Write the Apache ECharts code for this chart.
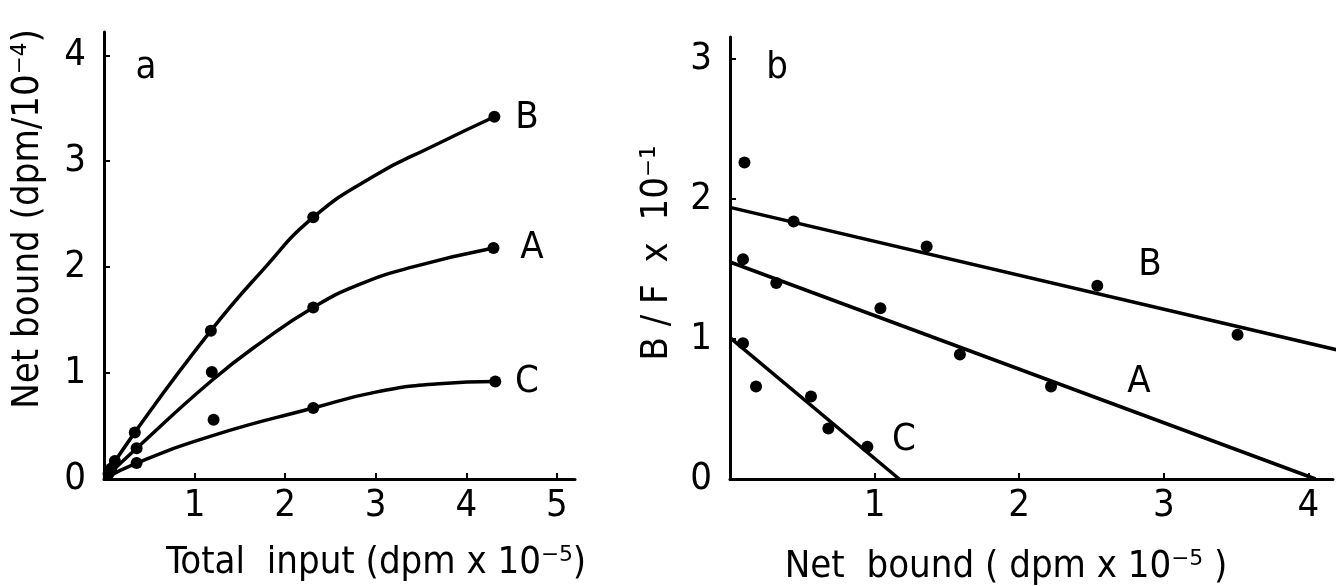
<!DOCTYPE html>
<html>
<head>
<meta charset="utf-8">
<script src="https://cdn.jsdelivr.net/npm/echarts@6/dist/echarts.min.js"></script>
<style>
  html, body { margin: 0; padding: 0; background: #fff; }
  #chart { width: 1344px; height: 586px; }
</style>
</head>
<body>
<div id="chart"></div>
<script>
// panel a : net bound vs total input
var aPointsB = [[0.12, 0.17], [0.34, 0.44], [1.18, 1.40], [2.31, 2.47], [4.31, 3.42]];
var aPointsA = [[0.08, 0.10], [0.36, 0.29], [1.19, 1.01], [2.31, 1.62], [4.30, 2.18]];
var aPointsC = [[0.05, 0.05], [0.36, 0.15], [1.21, 0.56], [2.31, 0.67], [4.32, 0.92]];
// hand drawn fitted curves
var aCurveB = [[0, 0], [0.34, 0.44], [1.18, 1.40], [1.75, 1.97], [2.31, 2.47], [3.0, 2.87], [3.6, 3.13], [4.31, 3.42]];
var aCurveA = [[0, 0], [0.36, 0.29], [1.19, 0.93], [1.75, 1.30], [2.31, 1.62], [2.8, 1.83], [3.4, 2.0], [4.30, 2.18]];
var aCurveC = [[0, 0], [0.36, 0.15], [1.2, 0.41], [2.31, 0.67], [3.0, 0.82], [3.7, 0.90], [4.32, 0.92]];

// panel b : scatchard plot B/F vs net bound
var bPointsB = [[0.10, 2.26], [0.44, 1.84], [1.36, 1.66], [2.54, 1.38], [3.51, 1.03]];
var bPointsA = [[0.09, 1.57], [0.32, 1.40], [1.04, 1.22], [1.59, 0.89], [2.22, 0.66]];
var bPointsC = [[0.09, 0.97], [0.18, 0.66], [0.56, 0.59], [0.68, 0.36], [0.95, 0.23]];
var bLineB = [[0, 1.94], [4.25, 0.91]];
var bLineA = [[0, 1.55], [4.05, 0]];
var bLineC = [[0, 1.01], [1.17, 0]];

// tick labels
var xTicksA = [1, 2, 3, 4, 5];
var yTicksA = [0, 1, 2, 3, 4];
var xTicksB = [1, 2, 3, 4];
var yTicksB = [0, 1, 2, 3];

var FONT = '"DejaVu Sans Condensed", "DejaVu Sans", sans-serif';

function valAxis(idx, min, max, ticks, isY) {
    return {
        type: 'value', gridIndex: idx, min: min, max: max,
        splitLine: { show: false },
        axisLine: { show: true, lineStyle: { color: '#000', width: 3 } },
        axisTick: { show: true, inside: true, length: 6, customValues: ticks.filter(function(v){ return v !== 0; }),
                    lineStyle: { color: '#000', width: 2 } },
        axisLabel: { customValues: ticks, color: '#000', fontSize: 38, fontFamily: FONT,
                     margin: isY ? 18 : 8 }
    };
}

function curve(xi, data, smooth, clip) {
    return { type: 'line', xAxisIndex: xi, yAxisIndex: xi, data: data, smooth: smooth,
             showSymbol: false, clip: clip, silent: true,
             lineStyle: { color: '#000', width: 3.5, opacity: 1 } };
}
function dots(xi, data) {
    return { type: 'scatter', xAxisIndex: xi, yAxisIndex: xi, data: data, symbolSize: 12,
             itemStyle: { color: '#000', opacity: 1 }, z: 3, silent: true };
}
function txt(x, y, s, rot) {
    return { type: 'text', x: x, y: y, rotation: rot || 0,
             style: { text: s, fill: '#000', font: '38px ' + FONT, align: 'center', verticalAlign: 'middle' } };
}

var chart = echarts.init(document.getElementById('chart'));
var option = {
    backgroundColor: '#fff',
    animation: false,
    grid: [
        { left: 104, top: 32, width: 471, height: 447 },
        { left: 730, top: 37, width: 603, height: 442 }
    ],
    xAxis: [ valAxis(0, 0, 5.2, xTicksA, false), valAxis(1, 0, 4.17, xTicksB, false) ],
    yAxis: [ valAxis(0, 0, 4.22, yTicksA, true), valAxis(1, 0, 3.157, yTicksB, true) ],
    series: [
        curve(0, aCurveB, 0.5, true), curve(0, aCurveA, 0.5, true), curve(0, aCurveC, 0.5, true),
        dots(0, aPointsB), dots(0, aPointsA), dots(0, aPointsC),
        curve(1, bLineB, false, false), curve(1, bLineA, false, true), curve(1, bLineC, false, true),
        dots(1, bPointsB), dots(1, bPointsA), dots(1, bPointsC)
    ],
    graphic: [
        txt(146, 68, 'a'), txt(527, 118, 'B'), txt(532, 248, 'A'), txt(527, 382, 'C'),
        txt(777, 68, 'b'), txt(1150, 265, 'B'), txt(1139, 382, 'A'), txt(904, 440, 'C'),
        txt(28, 219, 'Net bound (dpm/10⁻⁴)', Math.PI / 2),
        txt(657, 253, 'B / F  x  10⁻¹', Math.PI / 2),
        txt(376, 563, 'Total  input (dpm x 10⁻⁵)'),
        txt(1006, 567, 'Net  bound ( dpm x 10⁻⁵ )')
    ]
};
chart.setOption(option);
</script>
</body>
</html>
